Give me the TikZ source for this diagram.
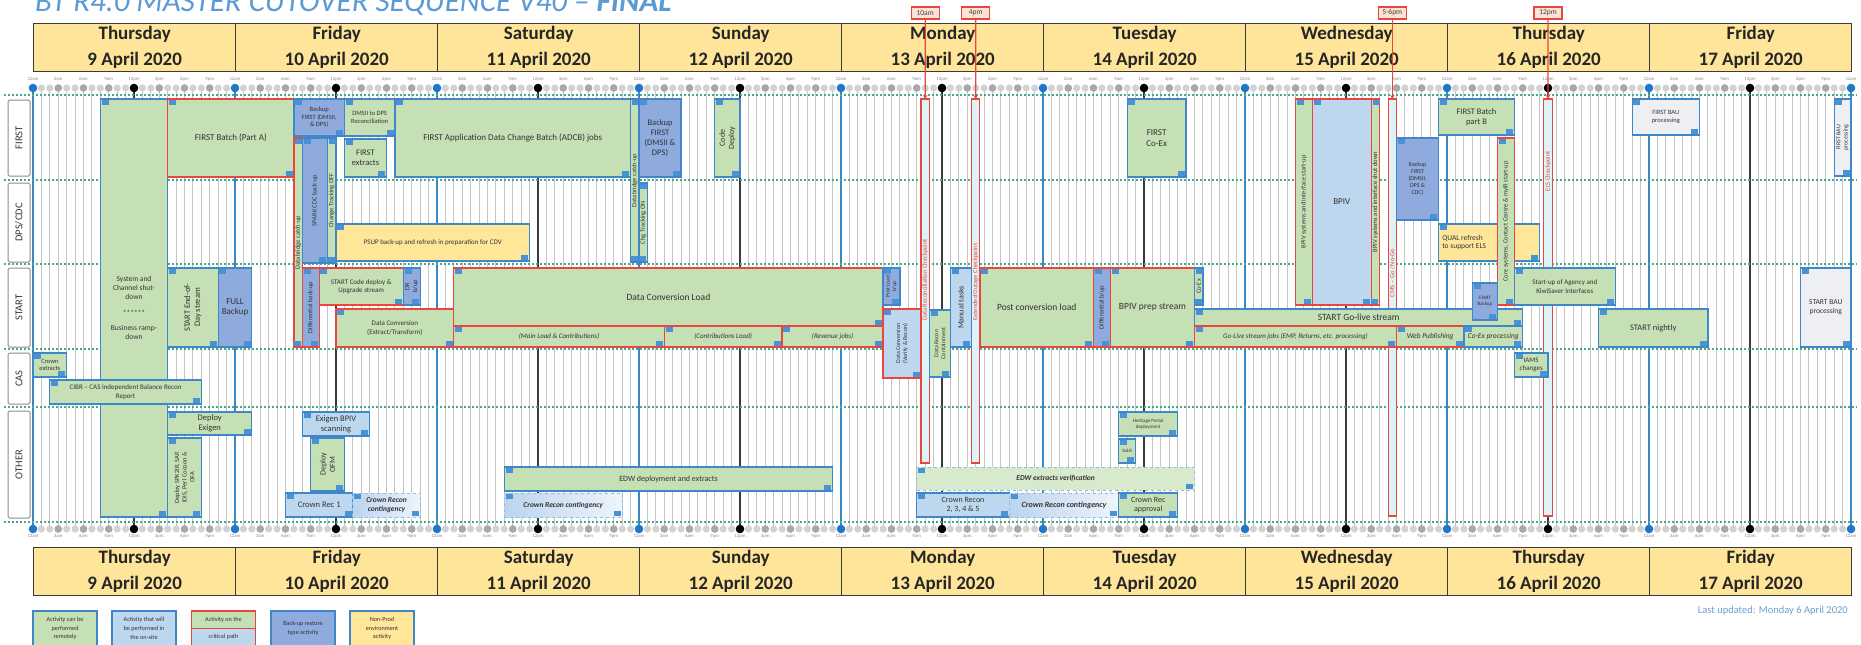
\documentclass[tikz,border=0pt]{standalone}
\usepackage{fontspec}
\setmainfont{Carlito}
\usetikzlibrary{arrows.meta}

\definecolor{cg}{HTML}{C5E0B4}
\definecolor{cb}{HTML}{3F87C9}
\definecolor{cr}{HTML}{E8463F}
\definecolor{clb}{HTML}{BDD7EE}
\definecolor{cdb}{HTML}{8FAADC}
\definecolor{cy}{HTML}{FFE699}
\definecolor{cbau}{HTML}{EDEFF3}
\definecolor{chd}{HTML}{FFE59A}
\definecolor{chdline}{HTML}{3B3B3B}
\definecolor{ctext}{HTML}{333333}
\definecolor{ctag}{HTML}{4A92D6}
\definecolor{cgrid}{HTML}{C4C4C4}
\definecolor{cday}{HTML}{3A87C8}
\definecolor{cnoon}{HTML}{3A3A3A}
\definecolor{clane}{HTML}{45A98E}
\definecolor{ctitle}{HTML}{5B9BD5}
\definecolor{ccp}{HTML}{DDF3F8}
\definecolor{ccont}{HTML}{BCD4EE}
\definecolor{cver}{HTML}{D8EACE}
\definecolor{cdotl}{HTML}{D2D2D2}
\definecolor{cdotm}{HTML}{A8A8A8}
\definecolor{cdotb}{HTML}{1F77C8}
\definecolor{cmark}{HTML}{FBE3D6}
\definecolor{cupd}{HTML}{6C9FD6}

% font helper: size with a 1.18 line skip, plus extra switches
\newcommand\mkfont[2]{%
  \pgfmathsetmacro\lskip{1.18*#1}%
  \edef\mkfontdo{\noexpand\tikzset{font=\noexpand\fontsize{#1}{\lskip}\noexpand\selectfont\unexpanded{#2}}}%
  \mkfontdo
  \tikzset{align=center,inner sep=0pt,text=ctext}}

\tikzset{
  L/.code={\mkfont{#1}{}},
  LI/.code={\mkfont{#1}{\itshape}},
  LBI/.code={\mkfont{#1}{\bfseries\itshape}},
  R/.code={\mkfont{#1}{}\tikzset{rotate=90}},
  box/.style={rectangle, inner sep=0pt, outer sep=0pt, line width=1.3pt},
  gb/.style={box, fill=cg, draw=cb},
  gc/.style={box, fill=cg, draw=cr},
  bk/.style={box, fill=cdb, draw=cb},
  bkc/.style={box, fill=cdb, draw=cr},
  os/.style={box, fill=clb, draw=cb},
  osc/.style={box, fill=clb, draw=cr},
  np/.style={box, fill=cy, draw=cb},
  bau/.style={box, fill=cbau, draw=cb},
  cont/.style={box, left color=ccont, right color=ccont!25, draw=ccont!70!cb, dashed, line width=0.9pt},
  ver/.style={box, fill=cver, draw=ccont!70!cb, dashed, line width=0.9pt},
  cpbox/.style={box, fill=ccp, draw=cr, line width=1.2pt},
  hdr/.style={rectangle, fill=chd, draw=chdline, line width=1.4pt, minimum width=202pt,
    minimum height=48pt, inner sep=0pt, align=center,
    font=\fontsize{19}{26}\selectfont\bfseries, text=black!85},
  tlab/.style={inner sep=0pt, font=\fontsize{4.8}{5}\selectfont, text=black!45},
  lanebox/.style={rectangle, draw=black!45, fill=white, line width=1pt, minimum width=22pt,
    rounded corners=1.5pt, inner sep=0pt},
  lanetxt/.style={rotate=90, inner sep=0pt, font=\fontsize{10.5}{10.5}\selectfont, text=black!78},
  mlab/.style={rectangle, fill=cmark, draw=cr, line width=1.1pt, inner sep=1pt, minimum width=28pt,
    minimum height=12pt, font=\fontsize{7.5}{7.5}\selectfont, text=black!75},
  lg/.style={rectangle, line width=1.4pt, minimum width=64pt, minimum height=35pt, inner sep=0pt,
    align=center, font=\fontsize{6.2}{8.7}\selectfont, text=ctext},
}

% activity box: style, name, start hour, end hour, top, bottom, label options, label
\newcommand\act[8]{%
  \node[#1, anchor=north west, minimum width={8.41667pt*((#4)-(#3))},
        minimum height={((#6)-(#5))*1pt}] (#2) at ({hx(#3)},#5) {};
  \node[#7] (#2t) at (#2.center) {#8};
  \fill[ctag] ([shift={(1.3,1.3)}]#2.north west) rectangle ++(7,5);
  \fill[ctag] ([shift={(-1.3,-1.3)}]#2.south east) rectangle ++(-7,-5);
}
% checkpoint bar: name, hour, top, bottom, label, label centre
\newcommand\cpbar[6]{%
  \node[cpbox, anchor=north west, minimum width=8.41667pt,
        minimum height={((#4)-(#3))*1pt}] (#1) at ({hx(#2-0.5)},#3) {};
  \node[R=6.5, text=cr] (#1t) at ({hx(#2)},#6) {#5};
}
% time flag above the header pointing at a checkpoint bar
\newcommand\cpflag[4]{%
  \node[mlab] (#1) at ({hx(#2)},13) {#3};
  \draw[cr, line width=1.2pt, -{Stealth[length=4pt,width=4.5pt]}] (#1.south) -- (#4.north);
}

\begin{document}
\begin{tikzpicture}[x=1pt, y=-1pt, declare function={hx(\t)=33+8.41667*\t;}]
\useasboundingbox (0,0) rectangle (1861,645);
\fill[white] (0,0) rectangle (1861,645);

% title
\node[anchor=base west, inner sep=0pt, font=\fontsize{31}{31}\selectfont\itshape, text=ctitle]
  (title) at (35,11) {BT R4.0 MASTER CUTOVER SEQUENCE V40 – \textbf{FINAL}};

% day headers, top and bottom
\foreach \di/\dn/\dt in {0/Thursday/9,1/Friday/10,2/Saturday/11,3/Sunday/12,4/Monday/13,
    5/Tuesday/14,6/Wednesday/15,7/Thursday/16,8/Friday/17}{
  \node[hdr, anchor=north west] (ht\di) at ({hx(24*\di)},23) {\dn\\\dt\ April 2020};
  \node[hdr, anchor=north west] (hb\di) at ({hx(24*\di)},547) {\dn\\\dt\ April 2020};
}

% hour grid
\foreach \h in {0,...,216}
  \draw[cgrid, line width=1pt] ({hx(\h)},88) -- ({hx(\h)},529);
\foreach \h in {12,36,...,204}
  \draw[cnoon, line width=1.1pt] ({hx(\h)},88) -- ({hx(\h)},529);
\foreach \h in {0,24,...,216}
  \draw[cday, line width=1.2pt] ({hx(\h)},88) -- ({hx(\h)},529);

% hour dots and time labels
\foreach \yy in {88,529}{
  \foreach \h in {0,...,216} \fill[cdotl] ({hx(\h)},\yy) circle (3.6pt);
  \foreach \h in {0,3,...,216} \fill[cdotm] ({hx(\h)},\yy) circle (3.8pt);
  \foreach \h in {12,36,...,204} \fill[black] ({hx(\h)},\yy) circle (4.3pt);
  \foreach \h in {0,24,...,216} \fill[cdotb] ({hx(\h)},\yy) circle (4.3pt);
}
\foreach \di in {0,...,8}{
  \foreach \k/\lab in {0/12am,3/3am,6/6am,9/9am,12/12pm,15/3pm,18/6pm,21/9pm}{
    \node[tlab] (tt\di-\k) at ({hx(24*\di+\k)},79) {\lab};
    \node[tlab] (tb\di-\k) at ({hx(24*\di+\k)},536) {\lab};
  }
}
\node[tlab] (ttend) at ({hx(216)},79) {12am};
\node[tlab] (tbend) at ({hx(216)},536) {12am};

% lane separators
\foreach \yy in {95,180,264,349,407,522}
  \draw[clane, line width=1.3pt, dash pattern=on 2pt off 2pt] (4,\yy) -- (1857,\yy);

% lane labels
\node[lanebox, minimum height=76pt] (lnF) at (19,138) {};
\node[lanetxt] (lnFt) at (lnF.center) {FIRST};
\node[lanebox, minimum height=79pt] (lnD) at (19,222.5) {};
\node[lanetxt] (lnDt) at (lnD.center) {DPS/CDC};
\node[lanebox, minimum height=79pt] (lnS) at (19,307.5) {};
\node[lanetxt] (lnSt) at (lnS.center) {START};
\node[lanebox, minimum height=51pt] (lnC) at (19,378.5) {};
\node[lanetxt] (lnCt) at (lnC.center) {CAS};
\node[lanebox, minimum height=107pt] (lnO) at (19,464.5) {};
\node[lanetxt] (lnOt) at (lnO.center) {OTHER};

% ---- checkpoint bars (behind the activities)
\cpbar{c1}{106}{99}{463}{Data Reconciliation Checkpoint}{280}
\cpbar{c2}{112}{99}{463}{Extended Outage Checkpoint}{282}
\cpbar{c3}{161.5}{99}{516}{CMS – Go / No-Go}{273}
\cpbar{c4}{180}{99}{516}{ELS Checkpoint}{171}

% ---- Thursday / Friday
\act{gb}{s1}{8}{16}{99}{517}{L=7.5}{System and\\Channel shut-\\down\\[7pt]******\\[7pt]Business ramp-\\down}
\act{gc}{h1}{16}{31}{99}{177}{L=9}{FIRST Batch (Part A)}
\act{bk}{h4}{31}{37}{99}{136}{L=6.5}{Backup\\FIRST (DMSII,\\\& DPS)}
\act{gb}{h5}{37}{43}{99}{136}{L=6.5}{DMSII to DPS\\Reconciliation}
\act{gb}{h6}{43}{71}{99}{177}{L=9}{FIRST Application Data Change Batch (ADCB) jobs}
\act{gc}{d1}{31}{32}{138}{347}{R=6.5}{Databridge catch-up}
\act{bk}{d2}{32}{35}{138}{263}{R=6.5}{SPARK CDC back-up}
\act{gb}{d3}{35}{36}{138}{263}{R=6.5}{Change Tracking OFF}
\act{gb}{h7}{37}{42}{139}{177}{L=8.5}{FIRST\\extracts}
\act{np}{p1}{36}{59}{224}{261}{L=7}{PSUP back-up and refresh in preparation for CDV}
\act{gb}{e1}{16}{22}{268}{347}{R=8.5}{START End-of-\\Day stream}
\act{bk}{e2}{22}{26}{268}{347}{L=9}{FULL\\Backup}
\act{bkc}{e3}{32}{34}{268}{347}{R=6.5}{Differential back-up}
\act{gc}{e4}{34}{44}{268}{305}{L=7}{START Code deploy \&\\Upgrade stream}
\act{bk}{e5}{44}{46}{268}{305}{R=6.5}{DR\\b/up}
\act{gc}{e6}{36}{50}{309}{347}{L=7}{Data Conversion\\(Extract/Transform)}
\act{gc}{e7}{50}{101}{268}{326}{L=9.5}{Data Conversion Load}
\act{gc}{e8}{50}{75}{326}{347}{LI=7}{(Main Load \& Contributions)}
\act{gc}{e9}{75}{89}{326}{347}{LI=7}{(Contributions Load)}
\act{gc}{e10}{89}{101}{326}{347}{LI=7}{(Revenue jobs)}
\act{gb}{d4}{71}{72}{99}{262}{R=6.5}{Databridge catch-up}
\act{gb}{d5}{72}{73}{183}{262}{R=6.5}{Chg Tracking ON}
\act{bk}{h8}{72}{77}{99}{177}{L=8.5}{Backup\\FIRST\\(DMSII \&\\DPS)}
\act{gb}{h9}{81}{84}{99}{177}{R=8}{Code\\Deploy}

% ---- Monday / Tuesday
\act{bk}{e11}{101}{103}{268}{305}{R=5.5}{Post Load\\b/up}
\act{osc}{e12}{101}{105.5}{309}{378}{R=6}{Data Conversion\\(Verify \& Recon)}
\act{gb}{e13}{106.5}{109}{310}{377}{R=6}{Data Recon\\Containment}
\act{os}{e14}{109}{111.5}{268}{347}{R=8}{Manual tasks}
\act{gc}{e15}{112.5}{126}{268}{347}{L=9.5}{Post conversion load}
\act{bkc}{e16}{126}{128}{268}{347}{R=6.5}{Differential b/up}
\act{gc}{e17}{128}{138}{268}{347}{L=9.5}{BPIV prep stream}
\act{gb}{e18}{138}{139}{268}{305}{R=6.5}{Co-Ex}
\act{gb}{e19}{138}{177}{309}{326}{L=9.5}{START Go-live stream}
\act{gc}{e20}{138}{162}{326}{347}{LI=7}{Go-Live stream jobs (EMP, Returns, etc. processing)}
\act{gc}{e21}{162}{170}{326}{347}{LI=7.5}{Web Publishing}
\act{gb}{e22}{170}{177}{326}{347}{LI=7.5}{Co-Ex processing}
\act{gb}{h10}{130}{137}{99}{177}{L=9}{FIRST\\Co-Ex}

% ---- Wednesday / Thursday / Friday
\act{gc}{b1}{150}{152}{99}{305}{R=6.5}{BPIV systems and interface start-up}
\act{osc}{b2}{152}{159}{99}{305}{L=9}{BPIV}
\act{gc}{b3}{159}{160}{99}{305}{R=6.5}{BPIV systems and interface shut down}
\act{bk}{h11}{162}{167}{138}{220}{L=6}{Backup\\FIRST\\(DMSII,\\DPS \&\\CDC)}
\act{gb}{h12}{167}{176}{99}{135}{L=8.5}{FIRST Batch\\part B}
\act{np}{p2}{167}{179}{224}{261}{L=7.5, anchor=west, xshift=-47pt, align=left}{QUAL refresh\\to support ELS}
\act{gc}{b4}{174}{176}{138}{305}{R=6.5}{Core systems, Contact Centre \& myIR start-up}
\act{bk}{e23}{171}{174}{283}{320}{L=5}{START\\Backup}
\act{gb}{e24}{176}{188}{268}{305}{L=7}{Start-up of Agency and\\KiwiSaver Interfaces}
\act{gb}{e25}{186}{199}{309}{347}{L=8.5}{START nightly}
\act{bau}{e26}{210}{216}{268}{347}{L=7.5}{START BAU\\processing}
\act{bau}{h13}{190}{198}{99}{135}{L=6.5}{FIRST BAU\\processing}
\act{bau}{h14}{214}{216}{99}{176}{R=6}{FIRST BAU\\processing}

% ---- CAS
\act{gb}{a1}{0}{4}{353}{377}{L=6.5}{Crown\\extracts}
\act{gb}{a2}{2}{20}{380}{404}{L=7}{CIBR – CAS Independent Balance Recon\\Report}
\act{gb}{a3}{176}{180}{353}{377}{L=7}{IAMS\\changes}

% ---- OTHER
\act{gb}{o1}{16}{26}{412}{435}{L=8.5}{Deploy\\Exigen}
\act{gb}{o2}{16}{20}{438}{517}{R=6.5}{Deploy SPK2IR, SAP,\\IDIS, Perl Cocoon \&\\OFA}
\act{os}{o3}{32}{40}{412}{436}{L=8.5}{Exigen BPIV\\scanning}
\act{gb}{o4}{33}{37}{438}{491}{R=8}{Deploy\\OFM}
\act{os}{o5}{30}{38}{493}{517}{L=8.5}{Crown Rec 1}
\act{cont}{o6}{38}{46}{493}{517}{LBI=7.5}{Crown Recon\\contingency}
\act{gb}{o7}{56}{95}{467}{491}{L=8}{EDW deployment and extracts}
\act{cont}{o8}{56}{70}{493}{517}{LBI=7.5}{Crown Recon contingency}
\act{ver}{o9}{105}{138}{467}{490}{LBI=7.5}{EDW extracts verification}
\act{os}{o10}{105}{116}{493}{517}{L=8}{Crown Recon\\2, 3, 4 \& 5}
\act{cont}{o11}{116}{129}{493}{517}{LBI=8}{Crown Recon contingency}
\act{gb}{o12}{129}{136}{412}{436}{L=5}{Heritage Portal\\deployment}
\act{gb}{o13}{129}{131}{439}{463}{L=5}{SoLR}
\act{gb}{o14}{129}{136}{493}{517}{L=8}{Crown Rec\\approval}

% ---- time flags for the checkpoints
\cpflag{f1}{106}{10am}{c1}
\cpflag{f2}{112}{4pm}{c2}
\cpflag{f3}{161.5}{5-6pm}{c3}
\cpflag{f4}{180}{12pm}{c4}

% ---- legend
\node[lg, fill=cg, draw=cb] (lg1) at (65,628.5) {Activity can be\\performed\\remotely};
\node[lg, fill=clb, draw=cb] (lg2) at (144,628.5) {Activity that will\\be performed in\\the on-site};
\node[lg, fill=cg, draw=cr, minimum height=17.5pt] (lg3a) at (223.5,619.75) {Activity on the};
\node[lg, fill=clb, draw=cr, minimum height=17.5pt] (lg3b) at (223.5,637.25) {critical path};
\node[lg, fill=cdb, draw=cb] (lg4) at (303,628.5) {Back-up restore\\type activity};
\node[lg, fill=cy, draw=cb] (lg5) at (382,628.5) {Non-Prod\\environment\\activity};

\node[anchor=base east, inner sep=0pt, font=\fontsize{10.5}{10.5}\selectfont, text=cupd]
  (upd) at (1848,613) {Last updated: Monday 6 April 2020};
\end{tikzpicture}
\end{document}
